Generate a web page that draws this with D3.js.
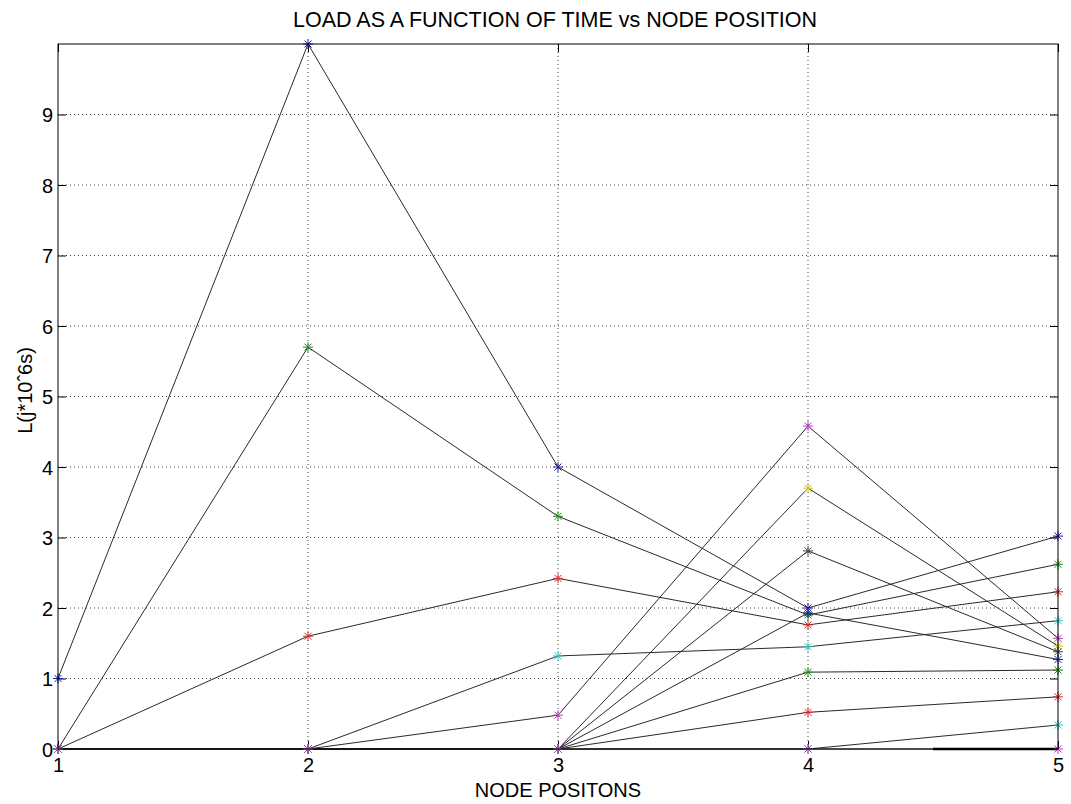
<!DOCTYPE html>
<html>
<head>
<meta charset="utf-8">
<script src="https://cdn.jsdelivr.net/npm/d3@7"></script>
<style>
  body { margin: 0; background: #fff; }
  text { font-family: "Liberation Sans", Arial, sans-serif; }
</style>
</head>
<body>
<div id="chart"></div>
<script>
// node positions on the x axis
const nodePositions = [1, 2, 3, 4, 5];
const xTicks = [1, 2, 3, 4, 5];
const yTicks = [0, 1, 2, 3, 4, 5, 6, 7, 8, 9];

// load values per series
const load1 = [1, 10, 4, 2.0, 3.02];
const load2 = [0, 5.7, 3.3, 1.9, 2.62];
const load3 = [0, 1.6, 2.42, 1.76, 2.23];
const load4 = [0, 0, 1.32, 1.45, 1.82];
const load5 = [0, 0, 0.48, 4.58, 1.57];
const load6 = [0, 0, 0, 3.70, 1.46];
const load7 = [0, 0, 0, 2.81, 1.38];
const load8 = [0, 0, 0, 1.93, 1.27];
const load9 = [0, 0, 0, 1.09, 1.12];
const load10 = [0, 0, 0, 0.52, 0.74];
const load11 = [0, 0, 0, 0, 0.34];
const load12 = [0, 0, 0, 0, 0];

// short extra segment drawn along zero near the last node
const baseSegmentX = [4.5, 5];
const baseSegmentY = [0, 0];

// matlab style colour order
const colorOrder = ["#1c1ca8", "#1f8a1f", "#d62a2a", "#3cc4c4", "#b23cb8", "#c8c81e", "#444444"];

const allLoads = [load1, load2, load3, load4, load5, load6, load7, load8, load9, load10, load11, load12];

const margin = {top: 44, right: 13, bottom: 55, left: 58};
const width = 1071;
const height = 804;
const innerWidth = width - margin.left - margin.right;
const innerHeight = height - margin.top - margin.bottom;

const svg = d3.select("#chart")
    .append("svg")
    .attr("width", width)
    .attr("height", height);

const g = svg.append("g")
    .attr("transform", `translate(${margin.left},${margin.top})`);

const xScale = d3.scaleLinear().domain([1, 5]).range([0, innerWidth]);
const yScale = d3.scaleLinear().domain([0, 10]).range([innerHeight, 0]);

// dotted grid
g.append("g")
    .selectAll("line")
    .data(yTicks.filter(d => d > 0))
    .join("line")
    .attr("x1", 0)
    .attr("x2", innerWidth)
    .attr("y1", d => yScale(d))
    .attr("y2", d => yScale(d))
    .attr("stroke", "#444")
    .attr("stroke-width", 1)
    .attr("stroke-dasharray", "1,3");

g.append("g")
    .selectAll("line")
    .data(xTicks.filter(d => d > 1 && d < 5))
    .join("line")
    .attr("x1", d => xScale(d))
    .attr("x2", d => xScale(d))
    .attr("y1", 0)
    .attr("y2", innerHeight)
    .attr("stroke", "#444")
    .attr("stroke-width", 1)
    .attr("stroke-dasharray", "1,3");

// axes with inward ticks
const xAxis = d3.axisBottom(xScale).tickValues(xTicks).tickSize(-8).tickPadding(5).tickFormat(d3.format("d"));
const yAxis = d3.axisLeft(yScale).tickValues(yTicks).tickSize(-8).tickPadding(5).tickFormat(d3.format("d"));

const gx = g.append("g")
    .attr("transform", `translate(0,${innerHeight})`)
    .call(xAxis);
const gy = g.append("g").call(yAxis);

const gTop = g.append("g")
    .call(d3.axisTop(xScale).tickValues(xTicks).tickSize(-8).tickFormat(""));
const gRight = g.append("g")
    .attr("transform", `translate(${innerWidth},0)`)
    .call(d3.axisRight(yScale).tickValues(yTicks).tickSize(-8).tickFormat(""));
gTop.selectAll("text").remove();
gRight.selectAll("text").remove();

g.selectAll(".domain").remove();
g.selectAll(".tick line").attr("stroke", "#000");
[gx, gy].forEach(a => a.selectAll("text")
    .attr("font-size", 20)
    .attr("fill", "#000")
    .attr("font-family", "Liberation Sans, Arial, sans-serif"));
gx.selectAll("text").attr("dy", "0.9em");
gy.selectAll("text").attr("dy", "0.36em");

// series lines
const line = d3.line()
    .x((d, i) => xScale(nodePositions[i]))
    .y(d => yScale(d));

g.append("g")
    .selectAll("path")
    .data(allLoads)
    .join("path")
    .attr("fill", "none")
    .attr("stroke", "#2a2a2a")
    .attr("stroke-width", 1)
    .attr("d", line);

g.append("path")
    .datum(baseSegmentY)
    .attr("fill", "none")
    .attr("stroke", "#000")
    .attr("stroke-width", 2.5)
    .attr("d", d3.line().x((d, i) => xScale(baseSegmentX[i])).y(d => yScale(d)));

// asterisk markers
const r = 5;
const star = `M${-r},0L${r},0M0,${-r}L0,${r}M${-r * 0.7},${-r * 0.7}L${r * 0.7},${r * 0.7}M${-r * 0.7},${r * 0.7}L${r * 0.7},${-r * 0.7}`;

allLoads.forEach((vals, si) => {
    g.append("g")
        .selectAll("path")
        .data(vals)
        .join("path")
        .attr("transform", (d, i) => `translate(${xScale(nodePositions[i])},${yScale(d)})`)
        .attr("d", star)
        .attr("fill", "none")
        .attr("stroke", colorOrder[si % colorOrder.length])
        .attr("stroke-width", 1);
});

// plot box
g.append("rect")
    .attr("width", innerWidth)
    .attr("height", innerHeight)
    .attr("fill", "none")
    .attr("stroke", "#000")
    .attr("stroke-width", 1);

// labels
svg.append("text")
    .attr("x", margin.left + innerWidth / 2 - 3)
    .attr("y", 27)
    .attr("text-anchor", "middle")
    .attr("font-size", 21.5)
    .text("LOAD AS A FUNCTION OF TIME vs NODE POSITION");

svg.append("text")
    .attr("x", margin.left + innerWidth / 2)
    .attr("y", 797)
    .attr("text-anchor", "middle")
    .attr("font-size", 20)
    .text("NODE POSITONS");

svg.append("text")
    .attr("text-anchor", "middle")
    .attr("transform", `translate(32,${margin.top + innerHeight / 2 - 6}) rotate(-90)`)
    .attr("font-size", 20)
    .text("L(j*10ˆ6s)");
</script>
</body>
</html>
